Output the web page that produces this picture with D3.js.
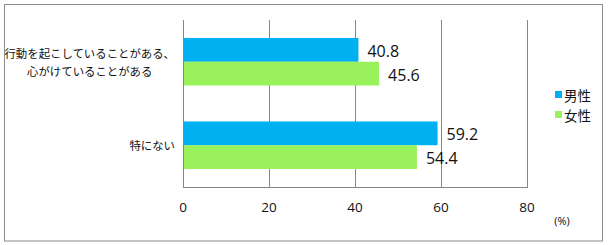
<!DOCTYPE html>
<html>
<head>
<meta charset="utf-8">
<script src="https://cdn.jsdelivr.net/npm/d3@7"></script>
<style>
  body { margin: 0; background: #fff; }
  svg { display: block; }
</style>
</head>
<body>
<div id="chart"></div>
<script>
// categories, series and ticks
const categories = ['行動を起こしていることがある、\n心がけていることがある', '特にない'];
const series = ['男性', '女性'];
const male = [40.8, 59.2];
const female = [45.6, 54.4];
const ticks = [0, 20, 40, 60, 80];
const colors = ['#00b0f0', '#99f25c'];

const width = 612, height = 245;
const plot = {left: 183, right: 527, top: 20, bottom: 187};

const svg = d3.select('#chart').append('svg')
    .attr('width', width)
    .attr('height', height);

// outer frame
svg.append('rect')
    .attr('x', 4.5).attr('y', 4.5)
    .attr('width', 598).attr('height', 236.5)
    .attr('fill', 'none')
    .attr('stroke', '#8c8c8c');

const x = d3.scaleLinear().domain([0, 80]).range([plot.left, plot.right]);
const y0 = d3.scaleBand().domain(categories).range([plot.top, plot.bottom]).paddingInner(0.43).paddingOuter(0.215);
const y1 = d3.scaleBand().domain(series).range([0, y0.bandwidth()]);

//gridlines
svg.append('g')
    .selectAll('line')
    .data(ticks)
    .enter().append('line')
    .attr('x1', d => Math.round(x(d)) + 0.5)
    .attr('x2', d => Math.round(x(d)) + 0.5)
    .attr('y1', plot.top)
    .attr('y2', plot.bottom)
    .attr('stroke', '#868686');

svg.append('line')
    .attr('x1', plot.left).attr('x2', plot.right + 1)
    .attr('y1', plot.bottom + 0.5).attr('y2', plot.bottom + 0.5)
    .attr('stroke', '#868686');

//bars
const rows = categories.map((c, i) => ({cat: c, vals: [male[i], female[i]]}));
const group = svg.append('g')
    .selectAll('g')
    .data(rows)
    .enter().append('g')
    .attr('transform', d => `translate(0, ${y0(d.cat)})`);

group.selectAll('rect')
    .data(d => d.vals.map((v, j) => ({s: series[j], v: v, j: j})))
    .enter().append('rect')
    .attr('x', x(0) + 1)
    .attr('y', d => y1(d.s))
    .attr('width', d => x(d.v) - x(0) - 1)
    .attr('height', y1.bandwidth())
    .attr('fill', d => colors[d.j]);

group.selectAll('text')
    .data(d => d.vals.map((v, j) => ({s: series[j], v: v})))
    .enter().append('text')
    .attr('x', d => x(d.v) + 9)
    .attr('y', d => y1(d.s) + y1.bandwidth() / 2 + 1)
    .attr('dominant-baseline', 'central')
    .style('font-family', '"Open Sans", sans-serif')
    .style('font-size', '16px')
    .attr('fill', '#111')
    .text(d => d.v.toFixed(1));

//category labels
categories.forEach(function(c) {
    const lines = c.split('\n');
    const cy = y0(c) + y0.bandwidth() / 2;
    const t = svg.append('text')
        .attr('text-anchor', 'middle')
        .style('font-family', '"Noto Sans CJK JP", sans-serif')
        .style('font-size', '11.4px')
        .attr('fill', '#111');
    lines.forEach(function(l, i) {
        t.append('tspan')
            .attr('x', 0)
            .attr('y', cy + (i - (lines.length - 1) / 2) * 18)
            .attr('dominant-baseline', 'central')
            .text(l);
    });
    // right align the block, lines centered within it
    const w = t.node().getBBox().width;
    t.attr('transform', `translate(${175 - w / 2}, 0)`);
});

//tick labels
svg.append('g')
    .selectAll('text')
    .data(ticks)
    .enter().append('text')
    .attr('x', d => x(d))
    .attr('y', 207)
    .attr('text-anchor', 'middle')
    .attr('dominant-baseline', 'central')
    .style('font-family', '"Open Sans", sans-serif')
    .style('font-size', '13.5px')
    .attr('fill', '#111')
    .text(d => d);

svg.append('text')
    .attr('x', 562).attr('y', 220)
    .attr('text-anchor', 'middle')
    .attr('dominant-baseline', 'central')
    .style('font-family', '"Open Sans", sans-serif')
    .style('font-size', '11px')
    .attr('fill', '#111')
    .text('(%)');

//legend
const legend = svg.append('g')
    .selectAll('g')
    .data(series)
    .enter().append('g')
    .attr('transform', (d, i) => `translate(555, ${91 + i * 20})`);

legend.append('rect')
    .attr('width', 7).attr('height', 7)
    .attr('fill', (d, i) => colors[i]);

legend.append('text')
    .attr('x', 9).attr('y', 4)
    .attr('dominant-baseline', 'central')
    .style('font-family', '"Noto Sans CJK JP", sans-serif')
    .style('font-size', '13.5px')
    .attr('fill', '#111')
    .text(d => d);
</script>
</body>
</html>
